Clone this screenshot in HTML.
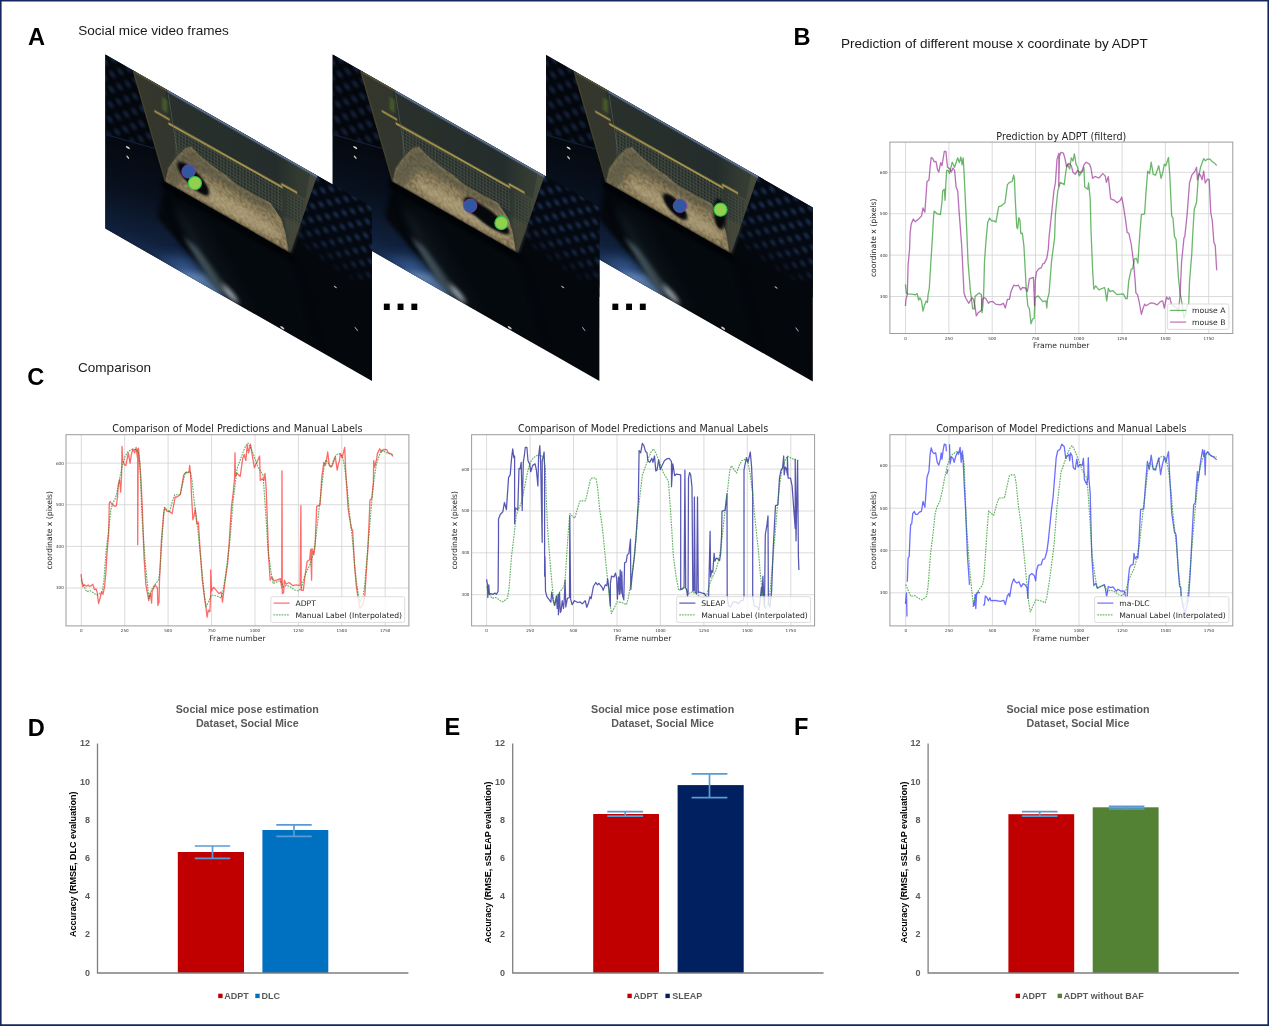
<!DOCTYPE html>
<html lang="en"><head><meta charset="utf-8"><title>Social mice pose estimation figure</title>
<style>
html,body{margin:0;padding:0;background:#fff;}
body{width:1269px;height:1026px;overflow:hidden;position:relative;}
svg{position:absolute;left:0;top:0;display:block;}
text{font-family:"Liberation Sans", sans-serif;}
.dv text, text.dv{font-family:"DejaVu Sans", sans-serif;}
.pl{font-weight:bold;font-size:23.6px;fill:#000;}
.pt{font-size:13.55px;fill:#1a1a1a;}
.bt{font-weight:bold;font-size:10.7px;fill:#595959;text-anchor:middle;}
.bk{font-weight:bold;font-size:9px;fill:#595959;}
.by{font-weight:bold;font-size:9px;fill:#000;text-anchor:middle;}
</style></head><body>
<svg width="1269" height="1026" viewBox="0 0 1269 1026">

<defs>
<filter id="b03" color-interpolation-filters="sRGB" x="-5%" y="-5%" width="110%" height="110%"><feGaussianBlur stdDeviation="0.45"/></filter>
<filter id="b06" color-interpolation-filters="sRGB" x="-5%" y="-5%" width="110%" height="110%"><feGaussianBlur stdDeviation="0.6"/></filter>
<filter id="b06s" color-interpolation-filters="sRGB" filterUnits="userSpaceOnUse" x="-40" y="-40" width="360" height="280"><feGaussianBlur stdDeviation="0.6"/></filter>
<filter id="b1" color-interpolation-filters="sRGB" filterUnits="userSpaceOnUse" x="-40" y="-40" width="360" height="280"><feGaussianBlur stdDeviation="1.2"/></filter>
<filter id="b2" color-interpolation-filters="sRGB" filterUnits="userSpaceOnUse" x="-40" y="-40" width="360" height="280"><feGaussianBlur stdDeviation="2.5"/></filter>
<filter id="b5" color-interpolation-filters="sRGB" filterUnits="userSpaceOnUse" x="-40" y="-40" width="360" height="280"><feGaussianBlur stdDeviation="6"/></filter>
<filter id="b10" color-interpolation-filters="sRGB" filterUnits="userSpaceOnUse" x="-60" y="-60" width="400" height="320"><feGaussianBlur stdDeviation="12"/></filter>
<filter id="grain" color-interpolation-filters="sRGB" x="0" y="0" width="100%" height="100%">
  <feTurbulence type="fractalNoise" baseFrequency="0.35" numOctaves="2" seed="7" result="n"/>
  <feColorMatrix in="n" type="matrix" values="0 0 0 0 0  0 0 0 0 0  0 0 0 0 0  1.6 0 0 0 -0.55" result="a"/>
  <feFlood flood-color="#5d4f36" result="c"/>
  <feComposite in="c" in2="a" operator="in" result="spk"/>
  <feComposite in="spk" in2="SourceGraphic" operator="in" result="spk2"/>
  <feMerge><feMergeNode in="SourceGraphic"/><feMergeNode in="spk2"/></feMerge>
</filter>
<pattern id="foamR" width="10.6" height="10.6" patternUnits="userSpaceOnUse" patternTransform="rotate(-38)">
  <rect width="10.6" height="10.6" fill="#040810"/>
  <circle cx="5.3" cy="5.3" r="2.7" fill="#192d4e"/>
</pattern>
<pattern id="foamL" width="11" height="11" patternUnits="userSpaceOnUse" patternTransform="rotate(-42)">
  <rect width="11" height="11" fill="#03060b"/>
  <circle cx="5.5" cy="5.5" r="3.1" fill="#121f37"/>
</pattern>
<pattern id="mesh" width="3.2" height="3.2" patternUnits="userSpaceOnUse">
  <rect width="3.2" height="3.2" fill="#4d5247"/>
  <rect x="0.7" y="0.7" width="2.2" height="2.2" fill="#1c2625"/>
</pattern>
<linearGradient id="floorL" gradientUnits="userSpaceOnUse" x1="40" y1="70" x2="70" y2="176">
  <stop offset="0" stop-color="#050910"/><stop offset="0.45" stop-color="#08111f"/><stop offset="0.8" stop-color="#10203b"/><stop offset="1" stop-color="#1a345c"/>
</linearGradient>
<linearGradient id="cageG" x1="0" y1="0" x2="1" y2="0">
  <stop offset="0" stop-color="#34362c"/><stop offset="0.18" stop-color="#30352e"/><stop offset="0.78" stop-color="#28312d"/><stop offset="0.9" stop-color="#3f4438"/><stop offset="1" stop-color="#474b3b"/>
</linearGradient>
<linearGradient id="bedG" x1="0" y1="0" x2="1" y2="1">
  <stop offset="0" stop-color="#7d7052"/><stop offset="0.45" stop-color="#968663"/><stop offset="1" stop-color="#b5a57e"/>
</linearGradient>
<linearGradient id="foamFade" x1="0" y1="0" x2="0" y2="1">
  <stop offset="0" stop-color="#04070c" stop-opacity="0"/><stop offset="0.5" stop-color="#04070c" stop-opacity="0.25"/><stop offset="1" stop-color="#04070c" stop-opacity="1"/>
</linearGradient>
<clipPath id="fclip"><rect x="0" y="0" width="266.7" height="174.1"/></clipPath>
<g id="scene">
  <rect x="-2" y="-2" width="271" height="179" fill="#04070c"/>
  <!-- left floor: dark navy getting bluer toward the bottom edge -->
  <polygon points="-2,78 49,66 60,94 52,133 122,176 -2,176" fill="url(#floorL)" filter="url(#b2)"/>
  <polygon points="50,178 80,158 98,162 121,178" fill="#3a5d93" opacity="0.85" filter="url(#b5)"/>
  <polygon points="70,176 100,163 121,176" fill="#6487b8" opacity="0.9" filter="url(#b2)"/>
  <polygon points="70,112 100,112 150,172 100,172" fill="#263642" opacity="0.55" filter="url(#b5)"/>
  <!-- grey light streak -->
  <polygon points="78,138 92,140 136,172 112,172" fill="#55666d" opacity="0.75" filter="url(#b2)"/>
  <polygon points="62,100 186,100 210,176 128,176" fill="#060b0f" opacity="0.8" filter="url(#b5)"/>
  <ellipse cx="125" cy="168" rx="9" ry="3.5" fill="#a5afb8" opacity="0.95" filter="url(#b2)" transform="rotate(28 125 168)"/>
  <!-- left foam -->
  <polygon points="-2,-2 30,-2 49,66 -2,80" fill="url(#foamL)" filter="url(#b1)"/>
  <line x1="0" y1="80" x2="49" y2="66" stroke="#13213a" stroke-width="1"/>
  <!-- right foam -->
  <polygon points="205,-2 270,-2 270,80 236,86 190,76" fill="url(#foamR)" filter="url(#b1)"/>
  <polygon points="180,40 268,40 268,90 180,90" fill="url(#foamFade)"/>
  <!-- cage -->
  <polygon points="27,-0.5 212,-0.5 185,93 60,93" fill="url(#cageG)"/>
  <polygon points="27,-0.5 60,-0.5 78,93 60,93" fill="#3a382a" opacity="0.35"/>
  <polygon points="60,0 205,0 200,30 62,30" fill="#1c2827" opacity="0.35"/>
  <!-- mesh -->
  <polygon points="68,34 176,32 178,56 70,62" fill="url(#mesh)" opacity="0.9" filter="url(#b06s)"/>
  <polygon points="180,34 200,33 192,70 182,70" fill="url(#mesh)" opacity="0.45"/>
  <!-- bedding -->
  <path d="M60,93 L63,78 L70,64 L80,48 L86,43 L94,47 L106,50 L120,52 L132,55 L150,55 L165,54 L176,64 L180,75 L183.4,93 Z" fill="#988a66" filter="url(#grain)"/>
  <path d="M60,93 L63,78 L70,64 L80,48 L86,43 L94,47 L106,50 L132,55 L165,54 L172,62 L150,64 L110,62 L86,66 L70,93 Z" fill="#3f4236" opacity="0.5" filter="url(#b2)"/>
  <ellipse cx="130" cy="81" rx="48" ry="8" fill="#c8b890" opacity="0.45" filter="url(#b2)"/>
  <polygon points="178,60 196,58 186,93 184,93" fill="#4d4d3c" opacity="0.55" filter="url(#b1)"/>
  <!-- bottom shadow of cage -->
  <polygon points="58,93 186,92.5 190,100 56,100" fill="#020406" opacity="0.9" filter="url(#b1)"/>
  <!-- yellow bar -->
  <path d="M49,28.5 L64.5,28.5 M63,32.8 L177.5,31.6 M176,28.8 L192,28.6" fill="none" stroke="#a8954e" stroke-width="2.2" filter="url(#b06s)"/>
  <!-- top edge reflection -->
  <path d="M62,1.0 L212,1.0" stroke="#61789f" stroke-width="2.4" opacity="0.85" fill="none" filter="url(#b06s)"/>
  <path d="M30,0.8 L62,0.8" stroke="#5d573a" stroke-width="1.8" opacity="0.9" fill="none" filter="url(#b06s)"/>
  <path d="M28,0 L60,93" stroke="#4a4630" stroke-width="1.6" opacity="0.8" fill="none" filter="url(#b06s)"/>
  <line x1="63" y1="4" x2="78" y2="92" stroke="#62685a" stroke-width="0.8" opacity="0.7"/>
  <rect x="57" y="10" width="5" height="13" fill="#4f6a2c" opacity="0.7" filter="url(#b1)"/>
  <!-- specks -->
  <ellipse cx="22.5" cy="80.3" rx="2" ry="1" fill="#d8d8d0"/>
  <ellipse cx="22.5" cy="90" rx="1.6" ry="1" fill="#c8c8c0" transform="rotate(30 22.5 90)"/>
  <ellipse cx="230" cy="101" rx="1.6" ry="0.8" fill="#b9b9a8"/>
  <ellipse cx="177" cy="172" rx="2" ry="1.2" fill="#c8ccd0"/>
  <ellipse cx="251" cy="131" rx="2.2" ry="0.7" fill="#9fb0b8" transform="rotate(35 251 131)"/>
</g>
</defs>

<g transform="matrix(1,0.572,0,1,546.1,54.9)"><g clip-path="url(#fclip)"><g><use href="#scene"/>
<g fill="#05090b" filter="url(#b1)">
<ellipse cx="129.0" cy="78.0" rx="13.0" ry="8.0" transform="rotate(25 129.0 78.0)"/>
<ellipse cx="173.5" cy="60.0" rx="6.0" ry="15.0" transform="rotate(0 173.5 60.0)"/>
<ellipse cx="122.0" cy="74.0" rx="5.0" ry="4.0" transform="rotate(0 122.0 74.0)"/>
</g>
</g></g></g>
<circle cx="679.9" cy="205.8" r="6.7" fill="#30589e" stroke="#7a3fb0" stroke-width="0.9"/>
<circle cx="720.5" cy="209.7" r="6.6" fill="#92d050" stroke="#2cc24a" stroke-width="1.1"/>
<g transform="matrix(1,0.572,0,1,332.7,54.4)"><g clip-path="url(#fclip)"><g><use href="#scene"/>
<g fill="#05090b" filter="url(#b1)">
<ellipse cx="154.0" cy="74.0" rx="23.0" ry="8.5" transform="rotate(8 154.0 74.0)"/>
<ellipse cx="140.0" cy="72.0" rx="9.0" ry="8.0" transform="rotate(0 140.0 72.0)"/>
</g>
</g></g></g>
<circle cx="470.2" cy="205.8" r="6.7" fill="#30589e" stroke="#7a3fb0" stroke-width="0.9"/>
<circle cx="501.4" cy="223.0" r="6.6" fill="#92d050" stroke="#2cc24a" stroke-width="1.1"/>
<g transform="matrix(1,0.572,0,1,105.3,54.4)"><g clip-path="url(#fclip)"><g><use href="#scene"/>
<g fill="#05090b" filter="url(#b1)">
<ellipse cx="88.0" cy="74.0" rx="17.0" ry="9.0" transform="rotate(24 88.0 74.0)"/>
</g>
</g></g></g>
<circle cx="188.6" cy="171.4" r="6.7" fill="#30589e" stroke="#7a3fb0" stroke-width="0.9"/>
<circle cx="194.9" cy="183.1" r="6.6" fill="#92d050" stroke="#2cc24a" stroke-width="1.1"/>
<text x="380.9" y="310" style="font-weight:bold;font-size:42px;letter-spacing:2.1px;fill:#000">...</text>
<text x="609.4" y="310" style="font-weight:bold;font-size:42px;letter-spacing:2.1px;fill:#000">...</text>
<text class="pl" x="27.9" y="44.6">A</text>
<text class="pl" x="793.5" y="44.5">B</text>
<text class="pl" x="27.3" y="385.0">C</text>
<text class="pl" x="27.8" y="735.5">D</text>
<text class="pl" x="444.4" y="734.5">E</text>
<text class="pl" x="794.0" y="734.5">F</text>
<text class="pt" x="78.2" y="34.6">Social mice video frames</text>
<text class="pt" x="840.9" y="48.3">Prediction of different mouse x coordinate by ADPT</text>
<text class="pt" x="78.0" y="372.1">Comparison</text>
<g class="dv" filter="url(#b03)">
<rect x="889.9" y="142.1" width="342.9" height="191.4" fill="#fff"/>
<path d="M905.6 142.1 V333.5 M948.9 142.1 V333.5 M992.2 142.1 V333.5 M1035.5 142.1 V333.5 M1078.8 142.1 V333.5 M1122.1 142.1 V333.5 M1165.4 142.1 V333.5 M1208.7 142.1 V333.5 M889.9 172.3 H1232.8 M889.9 213.7 H1232.8 M889.9 255.1 H1232.8 M889.9 296.5 H1232.8" stroke="#d2d2d2" stroke-width="0.8" fill="none"/>
<path d="M905.4 284.4 L906.5 293.0 L907.3 293.8 L913.6 294.3 L915.2 294.9 L917.1 293.4 L918.6 300.1 L919.9 297.8 L921.5 300.9 L923.0 311.2 L924.6 304.9 L926.2 300.9 L927.5 302.5 L928.1 294.6 L929.3 288.3 L930.9 261.5 L932.5 236.3 L933.3 220.9 L934.1 211.1 L937.2 213.8 L940.4 214.6 L942.0 202.0 L942.7 190.9 L944.3 189.3 L945.1 200.4 L945.9 183.0 L946.7 170.4 L948.3 170.4 L949.5 173.6 L952.2 162.2 L954.6 167.3 L957.7 157.8 L959.3 162.6 L960.9 157.0 L962.1 164.9 L963.2 157.8 L964.0 172.0 L964.8 187.8 L965.9 211.4 L966.9 233.5 L968.0 261.5 L970.3 289.9 L972.7 308.8 L974.3 308.8 L975.1 296.2 L979.0 293.0 L981.4 294.6 L982.1 312.7 L982.9 305.7 L983.7 293.0 L984.5 261.5 L986.1 239.5 L987.7 222.4 L989.6 218.0 L991.6 220.9 L994.0 220.9 L995.9 222.1 L998.7 206.7 L1001.1 205.9 L1005.0 202.7 L1007.4 184.6 L1009.7 182.3 L1012.1 181.5 L1013.7 175.2 L1014.5 179.9 L1015.2 198.8 L1016.8 227.2 L1017.6 228.7 L1018.9 217.7 L1020.0 220.9 L1020.8 233.5 L1022.3 233.2 L1023.9 245.8 L1026.3 289.9 L1027.8 305.7 L1029.4 308.8 L1031.0 323.8 L1032.6 319.0 L1034.2 318.3 L1034.9 297.8 L1038.1 295.9 L1042.8 301.7 L1046.0 300.9 L1046.8 308.0 L1047.5 299.3 L1049.1 293.0 L1051.5 261.5 L1054.6 237.9 L1055.4 214.6 L1057.8 190.9 L1058.7 187.8 L1060.2 182.3 L1064.2 184.6 L1065.8 172.0 L1067.3 164.1 L1069.7 168.9 L1071.3 157.8 L1072.9 161.0 L1074.4 153.9 L1076.0 164.1 L1077.6 167.3 L1079.2 175.9 L1083.1 170.4 L1083.9 167.3 L1084.7 187.0 L1087.8 189.3 L1088.6 183.0 L1090.2 198.8 L1091.0 230.3 L1092.6 269.4 L1093.8 289.1 L1095.7 285.9 L1098.9 289.9 L1104.4 287.5 L1105.2 289.9 L1106.7 300.9 L1108.3 288.3 L1109.9 291.5 L1113.0 290.7 L1117.0 294.6 L1123.3 293.8 L1125.7 298.6 L1127.2 298.6 L1128.8 280.4 L1131.2 269.4 L1132.7 268.6 L1134.3 259.2 L1136.4 258.4 L1137.9 263.1 L1139.0 245.8 L1140.1 230.3 L1141.4 214.6 L1144.6 213.8 L1146.1 190.9 L1147.7 171.2 L1149.6 173.6 L1151.2 162.2 L1153.2 174.4 L1155.6 175.2 L1158.7 165.7 L1161.1 178.3 L1162.7 172.8 L1164.3 164.1 L1165.8 165.7 L1168.5 157.5 L1169.8 175.2 L1171.7 216.1 L1172.9 217.7 L1174.5 236.6 L1175.3 237.9 L1176.1 239.5 L1178.4 277.3 L1180.0 292.3 L1181.6 300.9 L1184.0 318.3 L1185.9 312.0 L1187.1 305.7 L1188.7 304.1 L1189.5 282.0 L1191.8 253.6 L1192.6 236.6 L1194.2 209.8 L1196.6 202.0 L1198.1 179.9 L1200.5 167.3 L1203.7 158.6 L1205.2 160.7 L1207.6 159.1 L1210.0 159.1 L1212.3 161.8 L1214.7 163.3 L1216.7 165.7" stroke="#108a10" stroke-width="1.3" fill="none" stroke-linejoin="round" stroke-opacity="0.62"/>
<path d="M905.4 306.0 L906.0 299.3 L907.3 294.6 L908.1 264.7 L909.6 248.9 L910.1 233.5 L911.2 224.0 L913.3 219.0 L915.2 221.7 L918.3 219.3 L921.5 216.1 L923.0 207.9 L924.9 212.2 L927.0 181.5 L929.0 179.9 L930.1 167.3 L931.2 157.5 L932.8 158.6 L934.1 161.8 L936.0 161.3 L937.5 169.6 L938.8 172.0 L940.7 162.6 L942.0 165.7 L944.3 151.5 L945.9 151.5 L947.5 167.3 L949.8 168.9 L951.4 172.0 L953.0 168.1 L954.6 170.4 L956.1 187.0 L957.7 190.9 L959.3 214.6 L961.7 245.8 L964.0 293.0 L965.6 297.8 L968.7 303.3 L971.9 297.8 L973.5 299.3 L975.1 307.2 L976.3 315.9 L978.2 312.7 L981.4 310.4 L982.1 299.3 L984.5 297.8 L986.1 299.0 L988.4 303.3 L990.0 301.7 L993.2 301.7 L995.5 304.1 L1000.3 304.9 L1003.4 303.3 L1005.3 308.0 L1007.4 299.3 L1009.4 299.3 L1011.0 291.5 L1013.7 285.2 L1016.0 285.9 L1018.4 285.2 L1020.8 289.9 L1022.3 287.5 L1025.5 288.0 L1027.4 291.5 L1029.4 278.9 L1033.4 277.3 L1034.6 305.7 L1035.3 280.4 L1036.5 271.8 L1038.9 268.6 L1041.2 267.8 L1042.8 263.9 L1044.4 263.1 L1046.8 258.4 L1048.3 248.9 L1049.1 236.6 L1051.5 214.6 L1053.9 190.9 L1055.4 183.0 L1057.0 159.4 L1058.9 153.1 L1058.7 186.2 L1059.5 156.2 L1061.0 152.3 L1063.4 153.1 L1065.0 158.6 L1066.5 166.5 L1068.9 163.3 L1071.3 165.7 L1072.9 172.0 L1075.2 174.4 L1077.6 170.4 L1079.9 172.8 L1082.3 170.4 L1083.9 164.9 L1086.2 162.2 L1089.4 164.1 L1091.0 168.1 L1092.6 178.3 L1094.9 176.4 L1098.9 178.0 L1102.8 173.6 L1105.2 175.9 L1106.4 182.3 L1108.3 176.7 L1110.7 198.8 L1114.6 200.4 L1117.0 202.7 L1120.1 200.4 L1121.7 197.2 L1123.3 205.1 L1125.7 220.9 L1127.2 232.7 L1128.8 233.2 L1131.2 244.2 L1133.5 261.5 L1135.1 280.4 L1135.9 293.0 L1137.5 294.6 L1139.0 300.9 L1141.4 314.3 L1143.0 308.8 L1144.6 304.1 L1146.1 305.7 L1150.9 302.8 L1154.0 303.3 L1157.2 304.9 L1160.3 301.7 L1162.7 300.9 L1164.3 308.0 L1166.6 297.0 L1168.2 299.3 L1169.8 297.5 L1171.4 304.1 L1172.9 305.7 L1177.7 308.8 L1178.4 312.0 L1180.0 296.2 L1181.6 261.5 L1184.0 237.9 L1184.8 236.6 L1187.1 214.6 L1189.5 183.0 L1191.8 175.2 L1195.0 171.2 L1196.6 167.3 L1197.4 179.9 L1198.9 173.6 L1200.5 175.2 L1202.1 179.9 L1203.7 171.2 L1205.2 183.0 L1207.6 179.1 L1209.2 179.9 L1210.8 213.0 L1212.3 220.9 L1213.9 242.6 L1215.2 245.0 L1216.7 270.2" stroke="#8a108a" stroke-width="1.3" fill="none" stroke-linejoin="round" stroke-opacity="0.6"/>
<rect x="1167.4" y="304.0" width="61.5" height="25.4" rx="1.6" fill="#fff" fill-opacity="0.8" stroke="#d4d4d4" stroke-width="0.8"/>
<path d="M1170.1 310.4 H1186.2" stroke="#108a10" stroke-width="1.2" stroke-opacity="0.62"/>
<text x="1192.0" y="313.2" font-size="7.7" fill="#262626">mouse A</text>
<path d="M1170.1 322.1 H1186.2" stroke="#8a108a" stroke-width="1.2" stroke-opacity="0.6"/>
<text x="1192.0" y="324.9" font-size="7.7" fill="#262626">mouse B</text>
<rect x="889.9" y="142.1" width="342.9" height="191.4" fill="none" stroke="#9c9c9c" stroke-width="1"/>
<text x="905.6" y="339.5" font-size="4.1" text-anchor="middle" fill="#333">0</text>
<text x="948.9" y="339.5" font-size="4.1" text-anchor="middle" fill="#333">250</text>
<text x="992.2" y="339.5" font-size="4.1" text-anchor="middle" fill="#333">500</text>
<text x="1035.5" y="339.5" font-size="4.1" text-anchor="middle" fill="#333">750</text>
<text x="1078.8" y="339.5" font-size="4.1" text-anchor="middle" fill="#333">1000</text>
<text x="1122.1" y="339.5" font-size="4.1" text-anchor="middle" fill="#333">1250</text>
<text x="1165.4" y="339.5" font-size="4.1" text-anchor="middle" fill="#333">1500</text>
<text x="1208.7" y="339.5" font-size="4.1" text-anchor="middle" fill="#333">1750</text>
<text x="887.7" y="173.7" font-size="4.1" text-anchor="end" fill="#333">600</text>
<text x="887.7" y="215.1" font-size="4.1" text-anchor="end" fill="#333">500</text>
<text x="887.7" y="256.5" font-size="4.1" text-anchor="end" fill="#333">400</text>
<text x="887.7" y="297.9" font-size="4.1" text-anchor="end" fill="#333">300</text>
<text x="1061.3" y="139.7" font-size="9.6" text-anchor="middle" fill="#262626">Prediction by ADPT (filterd)</text>
<text x="1061.3" y="348.1" font-size="7.7" text-anchor="middle" fill="#262626">Frame number</text>
<text transform="translate(875.7 237.8) rotate(-90)" font-size="7.7" text-anchor="middle" fill="#262626">coordinate x (pixels)</text>
</g>
<g class="dv" filter="url(#b03)">
<rect x="66.0" y="434.7" width="342.9" height="191.2" fill="#fff"/>
<path d="M81.3 434.7 V625.9 M124.7 434.7 V625.9 M168.1 434.7 V625.9 M211.6 434.7 V625.9 M255.0 434.7 V625.9 M298.4 434.7 V625.9 M341.8 434.7 V625.9 M385.2 434.7 V625.9 M66.0 463.1 H408.9 M66.0 504.7 H408.9 M66.0 546.4 H408.9 M66.0 588.0 H408.9" stroke="#d2d2d2" stroke-width="0.8" fill="none"/>
<path d="M81.0 574.2 L82.2 583.3 L82.9 586.8 L84.1 584.6 L86.5 586.2 L88.1 584.9 L89.6 586.5 L91.2 585.7 L92.8 584.1 L94.4 589.6 L95.9 588.8 L97.1 592.0 L98.6 603.5 L100.2 597.5 L101.5 592.0 L103.0 594.3 L104.6 586.5 L105.9 572.3 L107.0 553.4 L108.6 534.5 L109.3 503.3 L110.1 501.4 L111.7 504.0 L114.9 506.4 L116.4 505.6 L117.5 497.0 L118.3 484.3 L119.6 479.6 L120.7 492.2 L121.6 474.9 L122.0 446.5 L122.7 460.7 L124.3 464.6 L125.9 465.4 L128.3 452.8 L130.1 463.1 L131.4 454.4 L133.0 448.9 L134.6 452.8 L136.1 447.3 L137.4 457.6 L137.7 448.9 L137.7 544.7 L138.2 457.6 L138.5 448.1 L139.3 459.1 L140.9 478.0 L142.4 509.6 L144.0 556.5 L145.9 584.9 L147.2 592.0 L148.7 600.7 L150.3 592.8 L151.6 603.0 L152.2 591.2 L155.1 584.9 L157.4 588.0 L157.9 605.4 L159.0 602.2 L159.5 580.2 L161.4 540.8 L163.7 512.7 L164.8 508.0 L166.9 511.1 L170.0 511.9 L172.1 513.5 L174.0 503.3 L175.2 497.0 L177.1 497.0 L180.3 494.6 L181.8 485.9 L183.7 474.9 L185.8 472.5 L188.9 472.5 L189.7 465.4 L190.5 473.3 L191.6 497.0 L192.9 519.8 L194.1 515.9 L195.2 508.8 L196.8 523.7 L198.4 522.2 L200.0 548.6 L202.3 580.2 L204.7 599.1 L206.3 610.1 L207.1 617.2 L208.3 610.1 L209.9 611.7 L210.7 592.8 L210.7 569.9 L211.5 591.2 L213.4 587.3 L215.7 589.6 L218.9 593.6 L221.2 592.0 L222.5 602.2 L223.6 592.8 L225.2 580.2 L227.5 564.4 L229.1 543.9 L231.5 506.4 L233.1 493.8 L234.6 478.0 L235.0 452.8 L235.4 476.5 L237.0 473.3 L240.2 476.5 L242.6 459.1 L244.2 454.4 L245.8 460.7 L247.3 444.9 L248.6 452.8 L250.5 444.2 L252.1 454.4 L254.4 467.8 L256.0 463.9 L257.6 460.7 L259.6 456.0 L260.3 480.4 L262.3 478.8 L263.9 480.4 L265.0 473.3 L266.2 489.1 L267.5 525.3 L268.6 556.5 L270.2 580.2 L271.8 577.0 L274.1 580.9 L276.5 580.2 L280.4 578.6 L281.7 588.0 L282.0 470.9 L282.3 593.6 L283.6 592.8 L284.4 580.2 L285.9 584.1 L289.1 582.5 L293.0 585.7 L296.2 584.9 L300.1 585.7 L300.9 505.6 L301.2 590.4 L303.3 590.4 L304.9 577.0 L307.2 561.2 L309.6 559.7 L310.7 549.4 L311.6 580.2 L312.0 548.6 L313.8 554.9 L315.1 545.5 L316.7 506.4 L320.1 504.8 L321.7 478.0 L323.8 462.3 L325.4 465.4 L326.5 459.9 L327.7 452.0 L329.3 465.4 L330.9 467.0 L332.4 465.4 L335.3 456.8 L337.2 470.2 L338.4 463.9 L339.5 460.7 L340.3 453.6 L342.2 457.6 L344.7 447.3 L345.8 473.3 L348.2 509.6 L351.4 528.5 L352.6 530.1 L354.5 564.4 L356.1 584.1 L357.7 595.9 L360.0 608.5 L363.2 603.8 L364.8 595.9 L366.3 572.3 L367.9 548.6 L370.0 500.1 L371.8 498.5 L373.4 481.2 L373.7 460.7 L374.7 467.0 L376.6 459.1 L377.4 453.6 L379.7 448.9 L381.3 452.0 L383.7 449.4 L386.8 449.7 L388.4 452.8 L390.8 453.6 L393.1 456.3" stroke="#ff1010" stroke-width="1.3" fill="none" stroke-linejoin="round" stroke-opacity="0.62"/>
<path d="M81.3 579.8 L83.3 584.5 L86.5 591.6 L90.4 590.8 L95.1 593.9 L97.5 595.0 L102.2 591.6 L103.8 581.4 L106.2 550.0 L108.5 531.2 L110.9 509.6 L112.8 503.3 L115.6 497.9 L118.0 487.7 L120.3 475.1 L122.7 464.2 L125.1 456.3 L128.2 451.6 L132.1 449.3 L136.1 449.7 L138.4 452.4 L140.0 462.6 L140.8 487.7 L142.1 519.0 L143.2 534.4 L145.5 565.7 L147.9 589.2 L149.0 598.6 L151.8 589.2 L155.0 584.5 L158.1 580.6 L159.7 573.5 L161.3 550.0 L162.9 526.5 L164.4 507.3 L166.8 509.6 L169.5 512.0 L172.3 501.8 L174.7 494.7 L180.2 494.7 L182.5 484.5 L185.2 472.8 L187.3 472.0 L190.4 472.0 L192.0 479.8 L194.4 503.3 L196.7 519.0 L198.3 534.4 L200.7 557.9 L203.0 581.4 L204.6 597.1 L206.2 606.8 L208.5 601.8 L211.7 595.0 L216.4 595.8 L221.1 597.8 L222.7 592.3 L225.1 578.2 L227.4 561.0 L229.8 542.2 L232.9 503.3 L235.3 483.0 L237.0 468.9 L239.3 462.6 L243.3 451.6 L245.6 446.1 L248.0 443.0 L250.4 446.9 L253.5 454.8 L258.2 467.3 L263.0 475.1 L264.5 495.5 L266.1 519.0 L268.0 550.0 L270.8 570.4 L273.2 583.7 L277.9 581.4 L280.3 580.6 L283.4 586.9 L286.6 585.3 L290.5 586.9 L294.5 590.0 L298.4 590.8 L301.6 587.6 L303.9 578.2 L307.1 570.4 L310.2 564.1 L313.4 553.2 L315.7 539.1 L319.7 503.3 L322.0 484.5 L324.4 464.2 L326.0 459.8 L328.3 463.4 L331.0 467.0 L333.8 459.5 L336.2 454.8 L339.4 453.5 L342.5 456.3 L344.9 468.9 L347.2 487.7 L348.8 506.5 L352.7 542.2 L355.1 570.4 L357.5 589.2 L359.8 601.8 L363.0 597.1 L364.6 586.1 L366.9 557.9 L369.3 531.2 L371.6 503.3 L374.0 479.8 L376.4 464.2 L379.5 454.8 L381.9 450.1 L385.8 452.4 L389.8 454.0 L392.9 454.5" stroke="#108a10" stroke-width="1.15" fill="none" stroke-linejoin="round" stroke-opacity="0.66" stroke-dasharray="1.7 1.0"/>
<rect x="270.8" y="596.7" width="133.9" height="25.7" rx="1.6" fill="#fff" fill-opacity="0.8" stroke="#d4d4d4" stroke-width="0.8"/>
<path d="M273.5 603.1 H289.6" stroke="#ff1010" stroke-width="1.2" stroke-opacity="0.62"/>
<text x="295.4" y="605.9" font-size="7.7" fill="#262626">ADPT</text>
<path d="M273.5 614.8 H289.6" stroke="#108a10" stroke-width="1.2" stroke-opacity="0.6" stroke-dasharray="1.7 1.0"/>
<text x="295.4" y="617.6" font-size="7.7" fill="#262626">Manual Label (Interpolated)</text>
<rect x="66.0" y="434.7" width="342.9" height="191.2" fill="none" stroke="#9c9c9c" stroke-width="1"/>
<text x="81.3" y="631.9" font-size="4.1" text-anchor="middle" fill="#333">0</text>
<text x="124.7" y="631.9" font-size="4.1" text-anchor="middle" fill="#333">250</text>
<text x="168.1" y="631.9" font-size="4.1" text-anchor="middle" fill="#333">500</text>
<text x="211.6" y="631.9" font-size="4.1" text-anchor="middle" fill="#333">750</text>
<text x="255.0" y="631.9" font-size="4.1" text-anchor="middle" fill="#333">1000</text>
<text x="298.4" y="631.9" font-size="4.1" text-anchor="middle" fill="#333">1250</text>
<text x="341.8" y="631.9" font-size="4.1" text-anchor="middle" fill="#333">1500</text>
<text x="385.2" y="631.9" font-size="4.1" text-anchor="middle" fill="#333">1750</text>
<text x="63.8" y="464.5" font-size="4.1" text-anchor="end" fill="#333">600</text>
<text x="63.8" y="506.1" font-size="4.1" text-anchor="end" fill="#333">500</text>
<text x="63.8" y="547.8" font-size="4.1" text-anchor="end" fill="#333">400</text>
<text x="63.8" y="589.4" font-size="4.1" text-anchor="end" fill="#333">300</text>
<text x="237.4" y="432.3" font-size="9.6" text-anchor="middle" fill="#262626">Comparison of Model Predictions and Manual Labels</text>
<text x="237.4" y="640.5" font-size="7.7" text-anchor="middle" fill="#262626">Frame number</text>
<text transform="translate(51.8 530.3) rotate(-90)" font-size="7.7" text-anchor="middle" fill="#262626">coordinate x (pixels)</text>
</g>
<g class="dv" filter="url(#b03)">
<rect x="471.6" y="434.7" width="343.0" height="191.2" fill="#fff"/>
<path d="M486.6 434.7 V625.9 M530.1 434.7 V625.9 M573.5 434.7 V625.9 M617.0 434.7 V625.9 M660.4 434.7 V625.9 M703.9 434.7 V625.9 M747.3 434.7 V625.9 M790.8 434.7 V625.9 M471.6 469.1 H814.6 M471.6 511.0 H814.6 M471.6 552.8 H814.6 M471.6 594.7 H814.6" stroke="#d2d2d2" stroke-width="0.8" fill="none"/>
<path d="M486.6 579.4 L487.5 584.9 L487.8 597.5 L488.8 584.9 L489.4 594.3 L491.0 593.6 L493.3 594.3 L494.9 593.1 L496.5 594.3 L498.1 591.2 L498.5 540.8 L498.5 519.0 L500.4 514.3 L502.8 511.9 L504.4 502.5 L506.4 509.6 L508.6 477.3 L510.2 474.9 L511.5 459.1 L512.7 448.9 L513.8 457.6 L514.6 456.0 L514.6 523.7 L515.4 508.0 L517.8 509.6 L519.0 468.6 L520.1 468.6 L521.2 462.3 L522.2 510.4 L523.3 462.3 L524.4 455.2 L525.3 447.3 L526.9 447.3 L528.0 460.7 L529.6 463.9 L530.7 471.7 L532.7 465.4 L535.1 463.9 L536.4 470.2 L537.9 485.9 L538.6 456.0 L539.8 445.7 L540.6 460.7 L542.2 542.3 L542.2 460.7 L543.0 457.6 L544.1 452.0 L544.6 467.0 L544.6 576.2 L545.0 556.5 L545.5 591.2 L546.9 596.7 L549.3 599.9 L550.9 602.2 L551.7 592.0 L553.2 600.7 L554.8 605.4 L556.4 595.9 L557.2 608.5 L558.3 594.3 L558.4 614.8 L559.5 592.8 L560.3 612.5 L561.1 610.9 L562.2 600.7 L563.5 608.5 L564.3 599.1 L565.1 580.2 L565.8 607.0 L567.4 598.3 L569.5 597.5 L569.8 515.9 L570.6 599.1 L572.1 604.6 L574.5 600.7 L577.7 602.5 L580.0 601.9 L582.4 603.8 L585.2 600.7 L586.8 607.3 L588.7 602.2 L590.0 596.7 L591.1 598.8 L593.4 586.5 L595.8 582.5 L597.4 584.9 L598.9 583.3 L602.1 587.3 L603.2 590.4 L605.2 584.9 L606.8 585.7 L607.6 578.6 L609.2 591.2 L610.4 606.2 L610.4 583.3 L611.5 576.2 L613.9 577.0 L615.5 573.1 L616.7 578.6 L617.4 599.1 L618.6 577.0 L619.4 594.3 L620.2 569.9 L621.0 593.6 L621.8 571.5 L622.6 595.9 L623.8 599.9 L624.6 562.8 L626.2 562.0 L627.3 554.9 L628.9 553.4 L630.5 539.2 L630.8 589.6 L632.0 577.0 L634.4 556.5 L636.3 532.9 L638.3 501.7 L639.1 450.5 L640.7 452.8 L642.3 443.4 L643.9 445.7 L645.4 451.2 L647.0 452.8 L647.8 460.7 L649.8 462.3 L651.8 458.3 L652.9 462.3 L654.5 456.0 L655.8 470.9 L657.0 470.2 L658.6 459.9 L660.2 469.4 L662.1 465.4 L664.4 460.7 L666.8 458.8 L669.2 458.3 L671.5 461.5 L671.5 486.7 L672.8 463.9 L674.7 475.7 L676.2 474.1 L679.4 474.6 L680.7 474.9 L680.7 589.6 L682.6 588.8 L684.1 587.3 L684.9 470.2 L685.7 588.0 L686.5 589.6 L687.6 596.7 L688.1 591.2 L688.5 478.0 L689.6 472.5 L690.7 474.9 L692.0 487.5 L692.8 591.2 L693.9 590.4 L694.4 497.0 L695.2 592.0 L696.7 593.6 L697.5 497.0 L698.3 592.8 L699.1 592.0 L701.5 592.8 L704.6 593.6 L706.2 596.7 L708.6 596.7 L710.1 531.3 L710.6 577.0 L711.7 570.7 L712.8 572.3 L714.1 553.4 L714.9 561.2 L716.4 558.1 L718.0 558.9 L719.6 560.5 L720.7 553.4 L721.6 534.5 L722.0 511.1 L725.1 510.4 L727.0 493.8 L727.2 595.9 L728.3 605.4 L730.6 607.0 L733.0 602.2 L736.1 601.9 L738.5 603.8 L740.9 600.7 L743.2 600.3 L744.0 596.7 L744.0 470.2 L746.4 457.6 L748.0 462.3 L750.3 452.0 L751.6 467.0 L752.7 493.8 L752.7 596.7 L754.3 606.2 L757.4 607.0 L759.0 610.1 L760.1 600.7 L761.4 587.3 L762.1 595.9 L762.9 576.2 L763.7 595.9 L764.5 607.0 L765.3 534.5 L766.9 525.3 L768.0 515.9 L768.4 603.8 L770.0 607.0 L771.6 591.2 L773.2 548.6 L775.5 505.6 L777.9 504.8 L779.5 478.0 L781.1 470.2 L782.6 467.8 L783.7 456.0 L784.2 474.9 L785.3 467.0 L786.6 469.4 L787.4 474.9 L787.4 456.8 L788.1 478.0 L790.5 478.0 L792.1 485.9 L793.7 508.0 L795.2 528.5 L795.2 459.1 L796.0 540.8 L797.6 460.7 L798.4 556.5 L798.9 569.9" stroke="#08088f" stroke-width="1.25" fill="none" stroke-linejoin="round" stroke-opacity="0.68"/>
<path d="M486.6 586.5 L488.6 591.2 L491.8 598.3 L495.7 597.5 L500.4 600.7 L502.8 601.8 L507.5 598.3 L509.1 588.0 L511.5 556.5 L513.8 537.6 L516.2 515.9 L518.1 509.6 L520.9 504.0 L523.3 493.8 L525.7 481.2 L528.0 470.2 L530.4 462.3 L533.5 457.6 L537.5 455.2 L541.4 455.7 L543.8 458.3 L545.4 468.6 L546.1 493.8 L547.4 525.3 L548.5 540.8 L550.9 572.3 L553.2 595.9 L554.3 605.4 L557.2 595.9 L560.3 591.2 L563.5 587.3 L565.1 580.2 L566.6 556.5 L568.2 532.9 L569.8 513.5 L572.1 515.9 L574.8 518.2 L577.7 508.0 L580.0 500.9 L585.5 500.9 L587.9 490.7 L590.6 478.8 L592.6 478.0 L595.8 478.0 L597.4 485.9 L599.7 509.6 L602.1 525.3 L603.7 540.8 L606.0 564.4 L608.4 588.0 L610.0 603.8 L611.5 613.6 L613.9 608.5 L617.1 601.8 L621.8 602.5 L626.5 604.6 L628.1 599.1 L630.5 584.9 L632.8 567.6 L635.2 548.6 L638.3 509.6 L640.7 489.1 L642.4 474.9 L644.7 468.6 L648.7 457.6 L651.0 452.0 L653.4 448.9 L655.8 452.8 L658.9 460.7 L663.6 473.3 L668.4 481.2 L669.9 501.7 L671.5 525.3 L673.4 556.5 L676.2 577.0 L678.6 590.4 L683.3 588.0 L685.7 587.3 L688.9 593.6 L692.0 592.0 L695.9 593.6 L699.9 596.7 L703.8 597.5 L707.0 594.3 L709.3 584.9 L712.5 577.0 L715.7 570.7 L718.8 559.7 L721.2 545.5 L725.1 509.6 L727.5 490.7 L729.8 470.2 L731.4 465.7 L733.8 469.4 L736.5 473.0 L739.3 465.4 L741.7 460.7 L744.8 459.4 L748.0 462.3 L750.3 474.9 L752.7 493.8 L754.3 512.7 L758.2 548.6 L760.6 577.0 L762.9 595.9 L765.3 608.5 L768.4 603.8 L770.0 592.8 L772.4 564.4 L774.8 537.6 L777.1 509.6 L779.5 485.9 L781.8 470.2 L785.0 460.7 L787.4 456.0 L791.3 458.3 L795.2 459.9 L798.4 460.4" stroke="#108a10" stroke-width="1.15" fill="none" stroke-linejoin="round" stroke-opacity="0.66" stroke-dasharray="1.7 1.0"/>
<rect x="676.6" y="596.7" width="133.9" height="25.7" rx="1.6" fill="#fff" fill-opacity="0.8" stroke="#d4d4d4" stroke-width="0.8"/>
<path d="M679.3 603.1 H695.4" stroke="#08088f" stroke-width="1.2" stroke-opacity="0.68"/>
<text x="701.2" y="605.9" font-size="7.7" fill="#262626">SLEAP</text>
<path d="M679.3 614.8 H695.4" stroke="#108a10" stroke-width="1.2" stroke-opacity="0.6" stroke-dasharray="1.7 1.0"/>
<text x="701.2" y="617.6" font-size="7.7" fill="#262626">Manual Label (Interpolated)</text>
<rect x="471.6" y="434.7" width="343.0" height="191.2" fill="none" stroke="#9c9c9c" stroke-width="1"/>
<text x="486.6" y="631.9" font-size="4.1" text-anchor="middle" fill="#333">0</text>
<text x="530.1" y="631.9" font-size="4.1" text-anchor="middle" fill="#333">250</text>
<text x="573.5" y="631.9" font-size="4.1" text-anchor="middle" fill="#333">500</text>
<text x="617.0" y="631.9" font-size="4.1" text-anchor="middle" fill="#333">750</text>
<text x="660.4" y="631.9" font-size="4.1" text-anchor="middle" fill="#333">1000</text>
<text x="703.9" y="631.9" font-size="4.1" text-anchor="middle" fill="#333">1250</text>
<text x="747.3" y="631.9" font-size="4.1" text-anchor="middle" fill="#333">1500</text>
<text x="790.8" y="631.9" font-size="4.1" text-anchor="middle" fill="#333">1750</text>
<text x="469.4" y="470.5" font-size="4.1" text-anchor="end" fill="#333">600</text>
<text x="469.4" y="512.4" font-size="4.1" text-anchor="end" fill="#333">500</text>
<text x="469.4" y="554.2" font-size="4.1" text-anchor="end" fill="#333">400</text>
<text x="469.4" y="596.1" font-size="4.1" text-anchor="end" fill="#333">300</text>
<text x="643.1" y="432.3" font-size="9.6" text-anchor="middle" fill="#262626">Comparison of Model Predictions and Manual Labels</text>
<text x="643.1" y="640.5" font-size="7.7" text-anchor="middle" fill="#262626">Frame number</text>
<text transform="translate(457.4 530.3) rotate(-90)" font-size="7.7" text-anchor="middle" fill="#262626">coordinate x (pixels)</text>
</g>
<g class="dv" filter="url(#b03)">
<rect x="889.9" y="434.7" width="342.9" height="191.2" fill="#fff"/>
<path d="M905.7 434.7 V625.9 M949.0 434.7 V625.9 M992.4 434.7 V625.9 M1035.7 434.7 V625.9 M1079.0 434.7 V625.9 M1122.3 434.7 V625.9 M1165.7 434.7 V625.9 M1209.0 434.7 V625.9 M889.9 465.9 H1232.8 M889.9 508.2 H1232.8 M889.9 550.5 H1232.8 M889.9 592.8 H1232.8" stroke="#d2d2d2" stroke-width="0.8" fill="none"/>
<path d="M905.4 603.8 L906.0 598.3 L906.5 592.8 L907.0 616.4 M907.3 581.7 L908.1 558.1 L909.2 556.5 L910.1 534.5 L910.7 524.5 L911.7 523.7 L912.8 513.5 L914.4 511.5 L915.5 514.3 L917.5 514.3 L919.1 512.4 L921.5 511.1 L923.0 501.4 L924.9 507.2 L925.9 493.8 L927.0 477.3 L929.0 470.9 L930.1 454.4 L931.2 447.8 L932.5 452.0 L934.1 453.6 L935.7 452.8 L937.2 462.3 L938.8 465.1 L940.4 459.1 L941.2 452.8 L942.0 459.1 L943.2 449.7 L944.3 444.2 L945.9 444.9 L946.4 451.2 M946.7 474.1 L947.9 469.4 M949.5 444.2 L950.1 463.9 L951.4 456.8 L953.0 458.3 L954.2 462.3 L955.8 456.0 L957.7 452.0 L958.5 454.4 L960.1 447.3 L961.2 462.3 L962.4 450.9 L963.2 462.3 L964.3 485.9 L965.6 509.6 L967.5 556.5 L969.5 584.9 M973.2 607.0 L973.8 602.2 L974.7 605.4 L975.1 594.3 L975.8 608.5 L976.6 594.3 L978.2 592.0 L979.8 593.1 M983.2 605.4 L984.5 604.6 L985.3 595.9 L986.9 597.5 L988.4 600.7 L990.0 597.8 L990.8 600.7 L995.5 600.3 L1000.3 601.4 L1003.7 600.3 L1005.3 604.6 L1007.4 595.9 L1008.9 593.6 L1009.7 596.7 L1011.6 584.9 L1013.7 578.9 L1015.2 581.7 L1016.8 583.0 L1018.9 581.7 L1021.1 586.8 L1023.1 583.6 L1025.2 584.9 L1027.1 588.0 L1027.8 598.3 L1028.3 584.9 L1029.4 575.4 L1031.8 573.5 L1034.2 575.4 L1035.7 580.9 L1036.5 570.7 L1038.1 565.2 L1041.2 564.7 L1042.8 559.4 L1044.7 558.9 L1046.8 551.8 L1048.3 540.8 L1051.5 509.6 L1053.1 497.0 L1054.6 478.0 L1056.2 457.6 L1057.8 450.5 L1059.8 449.7 L1061.8 444.2 L1064.2 446.5 L1065.8 458.3 L1067.3 456.0 L1068.9 454.4 L1069.7 460.7 L1070.5 452.8 L1072.1 456.0 L1073.3 467.8 L1075.2 469.4 L1076.8 459.1 L1078.1 467.0 L1079.9 464.6 L1082.3 465.4 L1083.4 458.3 L1084.4 479.6 L1086.6 484.3 L1087.8 478.0 L1088.3 457.6 L1088.9 478.0 L1090.2 493.8 L1091.0 525.3 L1091.8 556.5 L1093.8 585.7 L1095.7 583.3 L1097.3 588.0 L1100.4 586.5 L1104.4 584.6 L1105.2 588.0 L1106.7 596.7 L1108.3 586.5 L1110.7 587.7 L1113.0 586.8 L1116.2 591.2 L1118.1 589.3 L1120.9 591.2 L1124.1 590.9 L1125.7 596.7 L1127.2 596.7 L1128.5 577.0 L1129.6 567.6 L1131.2 565.2 L1133.2 564.4 L1134.0 553.4 L1135.1 558.9 L1136.7 556.5 L1137.9 558.1 L1139.0 540.8 L1140.6 509.6 L1143.8 508.8 L1145.4 485.9 L1147.4 461.5 L1149.3 469.4 L1151.2 455.2 L1153.2 469.4 L1155.6 470.2 L1158.7 457.9 L1160.6 474.6 L1162.2 465.4 L1164.3 456.8 L1165.8 462.3 L1168.5 451.6 L1169.8 478.0 L1171.7 512.7 L1174.5 532.4 L1175.3 532.9 L1176.1 535.2 L1178.4 572.3 L1179.6 586.5 L1180.8 587.3 L1181.1 596.7 L1183.2 607.0 L1184.8 613.3 L1187.1 605.4 L1188.7 595.9 L1190.3 572.3 L1191.8 540.8 L1193.7 504.8 L1195.3 502.5 L1197.4 471.7 L1198.1 481.2 L1200.5 462.3 L1202.6 449.7 L1203.7 456.0 L1204.5 450.5 L1205.2 474.9 L1205.7 455.2 L1207.6 451.6 L1210.8 455.7 L1213.9 457.2 L1216.7 459.9" stroke="#1414ff" stroke-width="1.3" fill="none" stroke-linejoin="round" stroke-opacity="0.62"/>
<path d="M905.7 584.5 L907.7 589.3 L910.9 596.4 L914.8 595.6 L919.5 598.8 L921.9 599.9 L926.6 596.4 L928.1 586.1 L930.5 554.2 L932.9 535.1 L935.2 513.2 L937.1 506.8 L939.9 501.2 L942.3 490.9 L944.6 478.1 L947.0 467.0 L949.4 459.0 L952.5 454.2 L956.4 451.8 L960.4 452.3 L962.7 455.0 L964.3 465.4 L965.1 490.9 L966.3 522.7 L967.4 538.3 L969.8 570.1 L972.1 594.0 L973.2 603.6 L976.1 594.0 L979.2 589.3 L982.4 585.3 L983.9 578.1 L985.5 554.2 L987.1 530.3 L988.6 510.8 L991.0 513.2 L993.7 515.5 L996.5 505.2 L998.9 498.0 L1004.4 498.0 L1006.7 487.7 L1009.4 475.7 L1011.4 474.9 L1014.6 474.9 L1016.1 482.9 L1018.5 506.8 L1020.9 522.7 L1022.4 538.3 L1024.8 562.2 L1027.1 586.1 L1028.7 602.0 L1030.3 611.9 L1032.6 606.8 L1035.8 599.9 L1040.5 600.7 L1045.2 602.8 L1046.8 597.2 L1049.1 582.9 L1051.5 565.4 L1053.9 546.3 L1057.0 506.8 L1059.4 486.1 L1061.0 471.8 L1063.4 465.4 L1067.3 454.2 L1069.7 448.7 L1072.0 445.5 L1074.4 449.5 L1077.5 457.4 L1082.2 470.2 L1086.9 478.1 L1088.5 498.8 L1090.1 522.7 L1092.0 554.2 L1094.8 574.9 L1097.2 588.5 L1101.9 586.1 L1104.2 585.3 L1107.4 591.6 L1110.5 590.1 L1114.4 591.6 L1118.4 594.8 L1122.3 595.6 L1125.4 592.4 L1127.8 582.9 L1130.9 574.9 L1134.1 568.6 L1137.2 557.4 L1139.6 543.1 L1143.5 506.8 L1145.9 487.7 L1148.2 467.0 L1149.8 462.5 L1152.2 466.2 L1154.8 469.8 L1157.7 462.2 L1160.0 457.4 L1163.2 456.1 L1166.3 459.0 L1168.7 471.8 L1171.0 490.9 L1172.6 510.0 L1176.5 546.3 L1178.9 574.9 L1181.2 594.0 L1183.6 606.8 L1186.7 602.0 L1188.3 590.8 L1190.7 562.2 L1193.0 535.1 L1195.4 506.8 L1197.7 482.9 L1200.1 467.0 L1203.2 457.4 L1205.6 452.6 L1209.5 455.0 L1213.5 456.6 L1216.6 457.1" stroke="#108a10" stroke-width="1.15" fill="none" stroke-linejoin="round" stroke-opacity="0.66" stroke-dasharray="1.7 1.0"/>
<rect x="1094.6" y="596.7" width="134.3" height="25.7" rx="1.6" fill="#fff" fill-opacity="0.8" stroke="#d4d4d4" stroke-width="0.8"/>
<path d="M1097.3 603.1 H1113.4" stroke="#1414ff" stroke-width="1.2" stroke-opacity="0.62"/>
<text x="1119.2" y="605.9" font-size="7.7" fill="#262626">ma-DLC</text>
<path d="M1097.3 614.8 H1113.4" stroke="#108a10" stroke-width="1.2" stroke-opacity="0.6" stroke-dasharray="1.7 1.0"/>
<text x="1119.2" y="617.6" font-size="7.7" fill="#262626">Manual Label (Interpolated)</text>
<rect x="889.9" y="434.7" width="342.9" height="191.2" fill="none" stroke="#9c9c9c" stroke-width="1"/>
<text x="905.7" y="631.9" font-size="4.1" text-anchor="middle" fill="#333">0</text>
<text x="949.0" y="631.9" font-size="4.1" text-anchor="middle" fill="#333">250</text>
<text x="992.4" y="631.9" font-size="4.1" text-anchor="middle" fill="#333">500</text>
<text x="1035.7" y="631.9" font-size="4.1" text-anchor="middle" fill="#333">750</text>
<text x="1079.0" y="631.9" font-size="4.1" text-anchor="middle" fill="#333">1000</text>
<text x="1122.3" y="631.9" font-size="4.1" text-anchor="middle" fill="#333">1250</text>
<text x="1165.7" y="631.9" font-size="4.1" text-anchor="middle" fill="#333">1500</text>
<text x="1209.0" y="631.9" font-size="4.1" text-anchor="middle" fill="#333">1750</text>
<text x="887.7" y="467.3" font-size="4.1" text-anchor="end" fill="#333">600</text>
<text x="887.7" y="509.6" font-size="4.1" text-anchor="end" fill="#333">500</text>
<text x="887.7" y="551.9" font-size="4.1" text-anchor="end" fill="#333">400</text>
<text x="887.7" y="594.2" font-size="4.1" text-anchor="end" fill="#333">300</text>
<text x="1061.3" y="432.3" font-size="9.6" text-anchor="middle" fill="#262626">Comparison of Model Predictions and Manual Labels</text>
<text x="1061.3" y="640.5" font-size="7.7" text-anchor="middle" fill="#262626">Frame number</text>
<text transform="translate(875.7 530.3) rotate(-90)" font-size="7.7" text-anchor="middle" fill="#262626">coordinate x (pixels)</text>
</g>
<g>
<text class="bt" x="247.3" y="713.3">Social mice pose estimation</text>
<text class="bt" x="247.3" y="726.7">Dataset, Social Mice</text>
<text class="bk" x="89.9" y="975.5" text-anchor="end">0</text>
<text class="bk" x="89.9" y="937.3" text-anchor="end">2</text>
<text class="bk" x="89.9" y="899.1" text-anchor="end">4</text>
<text class="bk" x="89.9" y="860.9" text-anchor="end">6</text>
<text class="bk" x="89.9" y="822.7" text-anchor="end">8</text>
<text class="bk" x="89.9" y="784.5" text-anchor="end">10</text>
<text class="bk" x="89.9" y="746.3" text-anchor="end">12</text>
<text class="by" transform="translate(75.9 864.2) rotate(-90)" >Accuracy (RMSE, DLC evaluation)</text>
<rect x="177.8" y="852.0" width="66.2" height="121.0" fill="#c00000"/>
<rect x="262.4" y="830.0" width="65.9" height="143.0" fill="#0070c0"/>
<path d="M194.8 846.0 H230.2 M194.8 858.4 H230.2 M212.5 846.0 V858.4" stroke="#5b9bd5" stroke-width="1.7" fill="none"/>
<path d="M276.3 824.9 H311.7 M276.3 836.4 H311.7 M294.0 824.9 V836.4" stroke="#5b9bd5" stroke-width="1.7" fill="none"/>
<path d="M97.5 743.4 V973.4 M96.9 973 H408.4" stroke="#7f7f7f" stroke-width="1.3" fill="none"/>
<rect x="218.2" y="993.7" width="4.4" height="4.4" fill="#c00000"/>
<text class="bk" x="224.2" y="999.1">ADPT</text>
<rect x="255.3" y="993.7" width="4.4" height="4.4" fill="#0070c0"/>
<text class="bk" x="261.5" y="999.1">DLC</text>
</g>
<g>
<text class="bt" x="662.6" y="713.3">Social mice pose estimation</text>
<text class="bt" x="662.6" y="726.7">Dataset, Social Mice</text>
<text class="bk" x="505.1" y="975.5" text-anchor="end">0</text>
<text class="bk" x="505.1" y="937.3" text-anchor="end">2</text>
<text class="bk" x="505.1" y="899.1" text-anchor="end">4</text>
<text class="bk" x="505.1" y="860.9" text-anchor="end">6</text>
<text class="bk" x="505.1" y="822.7" text-anchor="end">8</text>
<text class="bk" x="505.1" y="784.5" text-anchor="end">10</text>
<text class="bk" x="505.1" y="746.3" text-anchor="end">12</text>
<text class="by" transform="translate(491.4 862.4) rotate(-90)" >Accuracy (RMSE, sSLEAP evaluation)</text>
<rect x="593.2" y="814.0" width="65.8" height="159.0" fill="#c00000"/>
<rect x="677.6" y="785.1" width="66.1" height="187.9" fill="#002060"/>
<path d="M607.3 811.7 H643.1 M607.3 816.2 H643.1 M625.2 811.7 V816.2" stroke="#5b9bd5" stroke-width="1.7" fill="none"/>
<path d="M691.6 773.9 H727.4 M691.6 797.7 H727.4 M709.5 773.9 V797.7" stroke="#5b9bd5" stroke-width="1.7" fill="none"/>
<path d="M512.7 743.4 V973.4 M512.1 973 H823.6" stroke="#7f7f7f" stroke-width="1.3" fill="none"/>
<rect x="627.4" y="993.7" width="4.4" height="4.4" fill="#c00000"/>
<text class="bk" x="633.5" y="999.1">ADPT</text>
<rect x="665.4" y="993.7" width="4.4" height="4.4" fill="#002060"/>
<text class="bk" x="672.2" y="999.1">SLEAP</text>
</g>
<g>
<text class="bt" x="1078.0" y="713.3">Social mice pose estimation</text>
<text class="bt" x="1078.0" y="726.7">Dataset, Social Mice</text>
<text class="bk" x="920.5" y="975.5" text-anchor="end">0</text>
<text class="bk" x="920.5" y="937.3" text-anchor="end">2</text>
<text class="bk" x="920.5" y="899.1" text-anchor="end">4</text>
<text class="bk" x="920.5" y="860.9" text-anchor="end">6</text>
<text class="bk" x="920.5" y="822.7" text-anchor="end">8</text>
<text class="bk" x="920.5" y="784.5" text-anchor="end">10</text>
<text class="bk" x="920.5" y="746.3" text-anchor="end">12</text>
<text class="by" transform="translate(906.8 862.4) rotate(-90)" >Accuracy (RMSE, sSLEAP evaluation)</text>
<rect x="1008.4" y="814.2" width="65.8" height="158.8" fill="#c00000"/>
<rect x="1092.7" y="807.3" width="65.9" height="165.7" fill="#548235"/>
<path d="M1021.9 811.7 H1057.5 M1021.9 816.1 H1057.5 M1039.7 811.7 V816.1" stroke="#5b9bd5" stroke-width="1.7" fill="none"/>
<path d="M1108.8 806.3 H1144.4 M1108.8 809.0 H1144.4 M1126.6 806.3 V809.0" stroke="#5b9bd5" stroke-width="1.7" fill="none"/>
<path d="M928.1 743.4 V973.4 M927.5 973 H1239.0" stroke="#7f7f7f" stroke-width="1.3" fill="none"/>
<rect x="1015.6" y="993.7" width="4.4" height="4.4" fill="#c00000"/>
<text class="bk" x="1021.9" y="999.1">ADPT</text>
<rect x="1057.6" y="993.7" width="4.4" height="4.4" fill="#548235"/>
<text class="bk" x="1063.7" y="999.1">ADPT without BAF</text>
</g>
<path d="M0 0 H1269 V1026 H0 Z M1.6 1.5 V1024.15 H1267.4 V1.5 Z" fill="#16275f" fill-rule="evenodd"/>
</svg>
</body></html>
